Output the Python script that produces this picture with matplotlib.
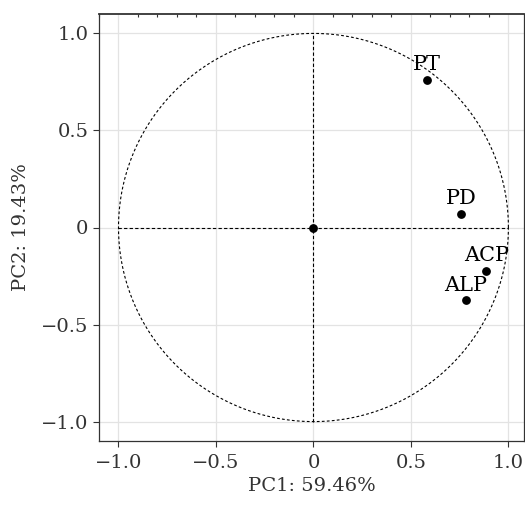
import matplotlib.pyplot as plt
import numpy as np
from matplotlib.ticker import FixedLocator, MultipleLocator

plt.rcParams['font.family'] = ['DejaVu Serif']

# Variables del círculo de correlaciones
variables = ['PT', 'PD', 'ACP', 'ALP']
pc1 = [0.58, 0.757, 0.886, 0.781]
pc2 = [0.759, 0.069, -0.225, -0.376]
ticks = [-1.0, -0.5, 0.0, 0.5, 1.0]
tick_labels = ['\u22121.0', '\u22120.5', '0', '0.5', '1.0']

fig = plt.figure(figsize=(5.25, 5.13), dpi=100)
ax = fig.add_axes([99 / 525, 1 - 441 / 513, 425 / 525, 427 / 513])

# circulo unitario
t = np.linspace(0, 2 * np.pi, 400)
ax.plot(np.cos(t), np.sin(t), color='black', lw=0.8, ls=(0, (2.5, 2)))
ax.plot([-1, 1], [0, 0], color='black', lw=0.8, ls=(0, (3, 2)))
ax.plot([0, 0], [-1, 1], color='black', lw=0.8, ls=(0, (3, 2)))

ax.scatter([0], [0], s=28, color='black', zorder=3)
ax.scatter(pc1, pc2, s=28, color='black', zorder=3)
for nombre, x, y in zip(variables, pc1, pc2):
    ax.annotate(nombre, (x, y), xytext=(0, 7), textcoords='offset points',
                ha='center', va='baseline', fontsize=15, color='black')

ax.set_xlim(-1.1, 1.08)
ax.set_ylim(-1.1, 1.1)
ax.xaxis.set_major_locator(FixedLocator(ticks))
ax.yaxis.set_major_locator(FixedLocator(ticks))
ax.set_xticklabels(tick_labels)
ax.set_yticklabels(tick_labels)
ax.grid(True, color='#e3e3e3', lw=0.9)
ax.set_axisbelow(True)

ax.tick_params(axis='both', labelsize=14, colors='#333333', length=4, width=0.8,
               direction='out', labelcolor='#333333')
ax.tick_params(axis='x', pad=5)
ax.xaxis.set_minor_locator(MultipleLocator(0.1))
ax.tick_params(axis='x', which='minor', bottom=False, top=True, direction='in',
               length=2.5, width=0.8, color='#333333')
ax.tick_params(axis='x', which='major', top=False)

for s in ax.spines.values():
    s.set_color('#333333')
    s.set_linewidth(0.9)
ax.spines['top'].set_linewidth(1.3)

ax.set_xlabel('PC1: 59.46%', fontsize=14, color='#333333', labelpad=4)
ax.set_ylabel('PC2: 19.43%', fontsize=14, color='#333333', labelpad=8)

fig.savefig('out.png', dpi=100)
